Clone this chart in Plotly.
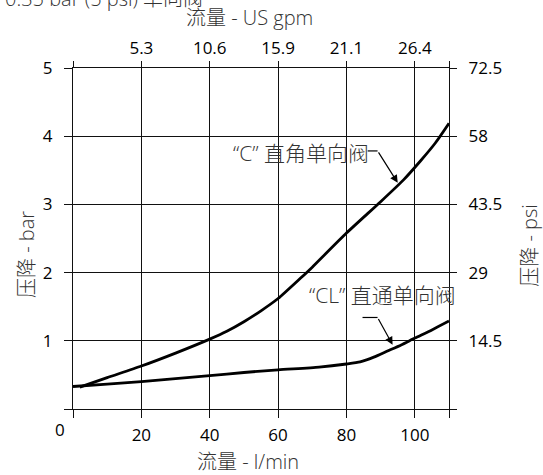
import plotly.graph_objects as go

# ---- data ----
flow_c = [2, 10, 20, 30, 40, 45, 50, 55, 60, 66.6, 70, 80, 90, 96.7, 101.7, 106, 110]
dp_c = [0.32, 0.46, 0.63, 0.82, 1.025, 1.14, 1.28, 1.44, 1.62, 1.92, 2.08, 2.58, 3.04, 3.36, 3.64, 3.90, 4.19]

flow_cl = [0, 10, 20, 30, 40, 50, 60, 72, 80, 84, 88, 92, 96, 100, 105, 110]
dp_cl = [0.33, 0.365, 0.40, 0.445, 0.49, 0.535, 0.575, 0.615, 0.66, 0.69, 0.76, 0.85, 0.94, 1.04, 1.16, 1.29]

x_ticks = [0, 20, 40, 60, 80, 100, 110]
x_ticktext = ["", "20", "40", "60", "80", "100", ""]
x2_ticktext = ["", "5.3", "10.6", "15.9", "21.1", "26.4", ""]
y_ticks = [0, 1, 2, 3, 4, 5]
y_ticktext = ["", "1", "2", "3", "4", "5"]
y2_ticks = [0, 14.5, 29, 43.5, 58, 72.5]
y2_ticktext = ["", "14.5", "29", "43.5", "58", "72.5"]

label_c = "“C” 直角单向阀"
label_cl = "“CL” 直通单向阀"
title_x = "流量 - l/min"
title_x2 = "流量 - US gpm"
title_y = "压降 - bar"
title_y2 = "压降 - psi"
top_title = "0.35 bar (5 psi) 单向阀"

FONT = "Open Sans, Noto Sans CJK SC, sans-serif"
INK = "#111111"

fig = go.Figure()
fig.add_trace(go.Scatter(x=flow_c, y=dp_c, mode="lines",
                         line=dict(color="black", width=2.8, shape="spline", smoothing=0.6),
                         hoverinfo="skip", showlegend=False))
fig.add_trace(go.Scatter(x=flow_cl, y=dp_cl, mode="lines",
                         line=dict(color="black", width=2.8, shape="spline", smoothing=0.6),
                         hoverinfo="skip", showlegend=False))
# invisible trace to activate secondary axes
fig.add_trace(go.Scatter(x=[0], y=[0], xaxis="x2", yaxis="y2", mode="markers",
                         marker=dict(opacity=0), hoverinfo="skip", showlegend=False))

axis_common = dict(showline=True, linecolor=INK, linewidth=1.4, ticks="outside",
                   tickcolor=INK, tickwidth=1.3, zeroline=False,
                   tickfont=dict(family=FONT, size=17, color="black"))

fig.update_layout(
    width=543, height=475,
    margin=dict(l=73, r=94, t=68, b=66, pad=0),
    paper_bgcolor="white", plot_bgcolor="white",
    font=dict(family=FONT, color="black"),
    xaxis=dict(range=[0, 110], tickmode="array", tickvals=x_ticks, ticktext=x_ticktext,
               ticklen=8, showgrid=True, gridcolor=INK, gridwidth=1.2,
               ticklabelstandoff=2, **axis_common),
    xaxis2=dict(range=[0, 110], overlaying="x", side="top", tickmode="array",
                tickvals=x_ticks, ticktext=x2_ticktext, ticklen=6, showgrid=False,
                ticklabelstandoff=0, **axis_common),
    yaxis=dict(range=[0, 5], tickmode="array", tickvals=y_ticks, ticktext=y_ticktext,
               ticklen=8, showgrid=True, gridcolor=INK, gridwidth=1.2,
               ticklabelstandoff=8, **axis_common),
    yaxis2=dict(range=[0, 72.5], overlaying="y", side="right", tickmode="array",
                tickvals=y2_ticks, ticktext=y2_ticktext, ticklen=7, showgrid=False,
                ticklabelstandoff=8, **axis_common),
)

cjk = dict(family=FONT, size=20, color="#333333", weight=300)
cjk_lbl = dict(family=FONT, size=21, color="#333333", weight=300)

ann = [
    dict(text=title_x, xref="paper", yref="paper", x=0.465, y=-0.155,
         showarrow=False, font=cjk, xanchor="center", yanchor="middle"),
    dict(text=title_x2, xref="paper", yref="paper", x=0.47, y=1.148,
         showarrow=False, font=cjk, xanchor="center", yanchor="middle"),
    dict(text=title_y, xref="paper", yref="paper", x=-0.122, y=0.452, textangle=-90,
         showarrow=False, font=cjk, xanchor="center", yanchor="middle"),
    dict(text=title_y2, xref="paper", yref="paper", x=1.215, y=0.481, textangle=-90,
         showarrow=False, font=cjk, xanchor="center", yanchor="middle"),
    dict(text="0", xref="paper", yref="paper", x=-0.035, y=-0.061, showarrow=False,
         font=dict(family=FONT, size=17, color="black"), xanchor="center", yanchor="middle"),
    dict(text=top_title, xref="paper", yref="paper", x=(205 - 73) / 376, y=1.205,
         showarrow=False, font=cjk, xanchor="right", yanchor="middle"),
    dict(text=label_c, xref="x", yref="y", x=66.6, y=3.755, showarrow=False,
         font=cjk_lbl, xanchor="center", yanchor="middle"),
    dict(text=label_cl, xref="x", yref="y", x=90.4, y=1.675, showarrow=False,
         font=cjk_lbl, xanchor="center", yanchor="middle"),
    # leader arrows
    dict(text="", xref="x", yref="y", axref="x", ayref="y", x=95.0, y=3.316,
         ax=89.1, ay=3.784, showarrow=True, arrowhead=2, arrowsize=1.3,
         arrowwidth=1.2, arrowcolor="black", standoff=0, startstandoff=0),
    dict(text="", xref="x", yref="y", axref="x", ayref="y", x=93.5, y=0.942,
         ax=89.1, ay=1.342, showarrow=True, arrowhead=2, arrowsize=1.3,
         arrowwidth=1.2, arrowcolor="black", standoff=0, startstandoff=0),
]
fig.update_layout(annotations=ann)

fig.add_shape(type="line", xref="x", yref="y", x0=86.2, y0=3.784, x1=89.1, y1=3.784,
              line=dict(color="black", width=1.2))
fig.add_shape(type="line", xref="x", yref="y", x0=84.7, y0=1.342, x1=89.1, y1=1.342,
              line=dict(color="black", width=1.2))

fig.write_html("out.html", config={"displayModeBar": False},
               post_script="document.body.style.margin='0';document.body.style.overflow='hidden';")
